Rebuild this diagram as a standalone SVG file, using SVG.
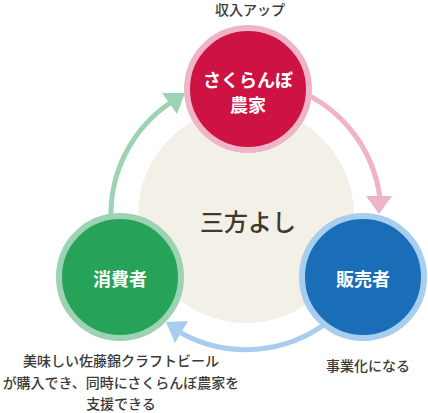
<svg xmlns="http://www.w3.org/2000/svg" width="428" height="413" viewBox="0 0 428 413">
<style>
text{font-family:"Noto Sans CJK JP","Noto Sans",sans-serif;text-anchor:middle}
.lbl{font-size:18px;font-weight:bold;fill:#fff}
.note{font-size:14px;font-weight:500;fill:#3a3a3a}
.arc{fill:none;stroke-width:5}
</style>
<rect width="428" height="413" fill="#fff"/>
<circle id="center" cx="246" cy="215" r="108" fill="#f2f0e7"/>
<text x="248" y="231" style="font-size:24px;font-weight:500;fill:#3b3a2c">三方よし</text>
<g id="connectors">
<path class="arc" stroke="#efb4c8" d="M298.3,90.5 A135,135 0 0 1 379.8,196.9"/>
<polygon fill="#efb4c8" points="366,196 392,196 379,214"/>
<path class="arc" stroke="#a9cdee" d="M329,321 A135,135 0 0 1 181,333"/>
<polygon fill="#a9cdee" points="166,322 188,321 175,343"/>
<path class="arc" stroke="#9dd2b4" d="M111,218 A135,135 0 0 1 170,103"/>
<polygon fill="#9dd2b4" points="185,93 162,93 177,114"/>
</g>
<g id="farmer">
<circle cx="248" cy="89" r="61" fill="#cf1244" stroke="#eeb5c8" stroke-width="6"/>
<text class="lbl" x="248" y="87">さくらんぼ</text>
<text class="lbl" x="248" y="112">農家</text>
</g>
<g id="seller">
<circle cx="363" cy="277" r="61" fill="#1a6eb7" stroke="#a7ceee" stroke-width="6"/>
<text class="lbl" x="363" y="286">販売者</text>
</g>
<g id="consumer">
<circle cx="120" cy="277" r="61" fill="#27a259" stroke="#9dd3b4" stroke-width="6"/>
<text class="lbl" x="120" y="286">消費者</text>
</g>
<text class="note" x="250" y="15">収入アップ</text>
<text class="note" x="368" y="371">事業化になる</text>
<text class="note" x="121" y="366">美味しい佐藤錦クラフトビール</text>
<text class="note" x="121" y="388">が購入でき、同時にさくらんぼ農家を</text>
<text class="note" x="121" y="409">支援できる</text>
</svg>
